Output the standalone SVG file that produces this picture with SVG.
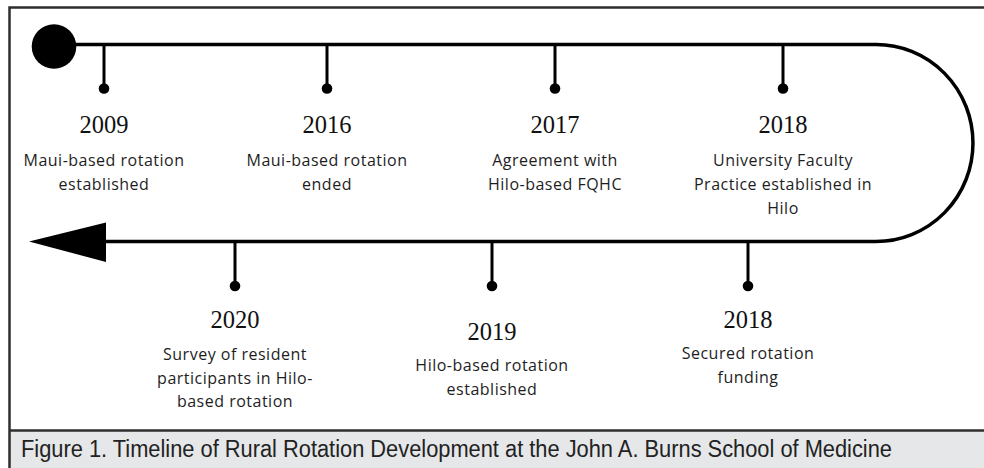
<svg xmlns="http://www.w3.org/2000/svg" width="984" height="468" viewBox="0 0 984 468">
<style>
.frame{fill:none;stroke:#2e2e2e;stroke-width:2.5}
.line{fill:none;stroke:#000;stroke-width:3.5}
.tick{stroke:#000;stroke-width:3}
.year{font-family:"Liberation Serif","Times New Roman",serif;font-size:24.5px;fill:#111;text-anchor:middle}
.desc{font-family:"Open Sans","Noto Sans",sans-serif;font-size:16px;fill:#1e1e1e;text-anchor:middle;letter-spacing:0.5px}
.cap{font-family:"Liberation Sans",Arial,sans-serif;font-size:23px;fill:#222}
</style>
<rect x="0" y="0" width="984" height="468" fill="#fff"/>
<rect x="10" y="431" width="974" height="37" fill="#e6e7e9"/>
<g id="frame">
<path class="frame" d="M9.5 468 V7.5 H984"/>
<path class="frame" d="M9.5 430.5 H984"/>
</g>
<g id="connectors">
<path class="line" d="M54 44.5 H876 A97 98.5 0 0 1 876 241.5 H104"/>
<polygon points="29,241.5 106,222.5 106,262" fill="#000"/>
<circle cx="54" cy="46.5" r="22.3" fill="#000"/>
</g>
<g id="n2009">
<line class="tick" x1="104" y1="44" x2="104" y2="88"/><circle cx="104" cy="88.5" r="5.3"/>
<text class="year" x="104" y="133">2009</text>
<text class="desc" x="104" y="166">Maui-based rotation</text>
<text class="desc" x="104" y="190">established</text>
</g>
<g id="n2016">
<line class="tick" x1="327" y1="44" x2="327" y2="88"/><circle cx="327" cy="88.5" r="5.3"/>
<text class="year" x="327" y="133">2016</text>
<text class="desc" x="327" y="166">Maui-based rotation</text>
<text class="desc" x="327" y="190">ended</text>
</g>
<g id="n2017">
<line class="tick" x1="555" y1="44" x2="555" y2="88"/><circle cx="555" cy="88.5" r="5.3"/>
<text class="year" x="555" y="133">2017</text>
<text class="desc" x="555" y="166">Agreement with</text>
<text class="desc" x="555" y="190">Hilo-based FQHC</text>
</g>
<g id="n2018a">
<line class="tick" x1="783" y1="44" x2="783" y2="88"/><circle cx="783" cy="88.5" r="5.3"/>
<text class="year" x="783" y="133">2018</text>
<text class="desc" x="783" y="166">University Faculty</text>
<text class="desc" x="783" y="190">Practice established in</text>
<text class="desc" x="783" y="214">Hilo</text>
</g>
<g id="n2020">
<line class="tick" x1="235" y1="241" x2="235" y2="286"/><circle cx="235" cy="286" r="5.3"/>
<text class="year" x="235" y="328">2020</text>
<text class="desc" x="235" y="360">Survey of resident</text>
<text class="desc" x="235" y="384">participants in Hilo-</text>
<text class="desc" x="235" y="407">based rotation</text>
</g>
<g id="n2019">
<line class="tick" x1="492" y1="241" x2="492" y2="286"/><circle cx="492" cy="286" r="5.3"/>
<text class="year" x="492" y="340">2019</text>
<text class="desc" x="492" y="371">Hilo-based rotation</text>
<text class="desc" x="492" y="395">established</text>
</g>
<g id="n2018b">
<line class="tick" x1="748" y1="241" x2="748" y2="286"/><circle cx="748" cy="286" r="5.3"/>
<text class="year" x="748" y="328">2018</text>
<text class="desc" x="748" y="359">Secured rotation</text>
<text class="desc" x="748" y="383">funding</text>
</g>
<g id="caption">
<text class="cap" x="21" y="457" textLength="871" lengthAdjust="spacingAndGlyphs">Figure 1. Timeline of Rural Rotation Development at the John A. Burns School of Medicine</text>
</g>
</svg>
